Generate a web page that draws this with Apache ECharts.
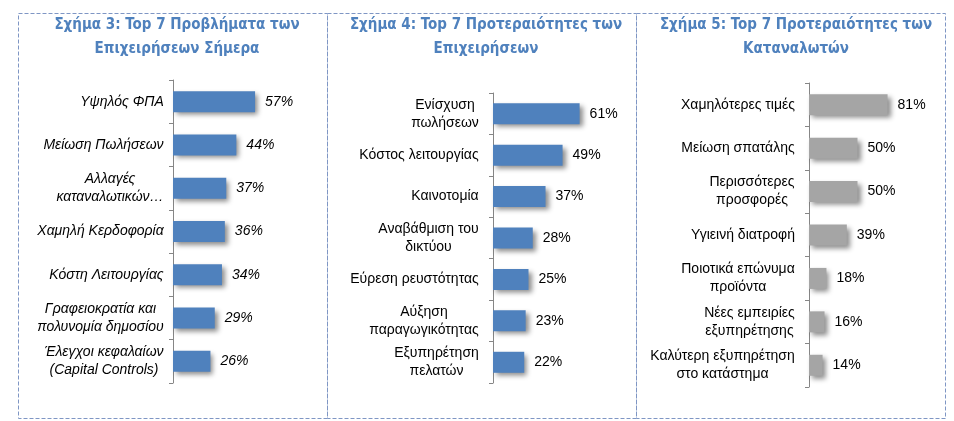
<!DOCTYPE html>
<html><head><meta charset="utf-8">
<script src="https://cdn.jsdelivr.net/npm/echarts@6/dist/echarts.min.js"></script>
<style>html,body{margin:0;padding:0;background:#fff}#c{width:954px;height:421px}</style>
</head><body><div id="c"></div>
<script>
const titles = [
  'Σχήμα 3: Top 7 Προβλήματα των\nΕπιχειρήσεων Σήμερα',
  'Σχήμα 4: Top 7 Προτεραιότητες των\nΕπιχειρήσεων',
  'Σχήμα 5: Top 7 Προτεραιότητες των\nΚαταναλωτών'
];
const cats1 = ['Υψηλός ΦΠΑ','Μείωση Πωλήσεων','Αλλαγές\nκαταναλωτικών…','Χαμηλή Κερδοφορία','Κόστη Λειτουργίας','Γραφειοκρατία και\nπολυνομία δημοσίου','Έλεγχοι κεφαλαίων\n(Capital Controls)'];
const vals1 = [57,44,37,36,34,29,26];
const cats2 = ['Ενίσχυση\nπωλήσεων','Κόστος λειτουργίας','Καινοτομία','Αναβάθμιση του\nδικτύου','Εύρεση ρευστότητας','Αύξηση\nπαραγωγικότητας','Εξυπηρέτηση\nπελατών'];
const vals2 = [61,49,37,28,25,23,22];
const cats3 = ['Χαμηλότερες τιμές','Μείωση σπατάλης','Περισσότερες\nπροσφορές','Υγιεινή διατροφή','Ποιοτικά επώνυμα\nπροϊόντα','Νέες εμπειρίες\nεξυπηρέτησης','Καλύτερη εξυπηρέτηση\nστο κατάστημα'];
const vals3 = [81,50,50,39,18,16,14];

const chart = echarts.init(document.getElementById('c'), null, {renderer:'canvas'});
const FONT = '"Liberation Sans", Arial, sans-serif';
const grids = [
  {left:173, top:80, width:144, height:303},
  {left:493, top:93, width:142, height:290},
  {left:809, top:83, width:97, height:304}
];
const cats = [cats1,cats2,cats3];
const vals = [vals1,vals2,vals3];
const colors = ['#4F81BD','#4F81BD','#A5A5A5'];
const italic = [true,false,false];
const titleX = [172, 481, 791];
const panels = [[18,327],[327,636],[636,945]];

// centre the lines of multi-line labels against each other (block stays right-aligned)
const mctx = document.createElement('canvas').getContext('2d');
function makeLabel(i){
  const style = italic[i] ? 'italic ' : '';
  mctx.font = style + '14px "Liberation Sans", Arial, sans-serif';
  const rich = {};
  const map = {};
  cats[i].forEach((c,k)=>{
    const lines = c.split('\n');
    const w = Math.ceil(Math.max(...lines.map(l=>mctx.measureText(l).width)));
    rich['r'+k] = {width:w, align:'center', fontFamily:FONT, fontSize:14, lineHeight:18,
      fontStyle: italic[i]?'italic':'normal', color:'#000'};
    map[c] = lines.map(l=>'{r'+k+'|'+l+'}').join('\n');
  });
  return {rich, formatter:(v)=>map[v]};
}

const option = {
  backgroundColor:'#fff',
  animation:false,
  title: titles.map((t,i)=>({
    text:t, left:titleX[i], top:8, textAlign:'center',
    textStyle:{fontFamily:'"Liberation Sans Narrow", "DejaVu Sans Condensed", Arial, sans-serif', fontWeight:'bold', fontSize:15, color:'#4F81BD', lineHeight:24}
  })),
  graphic: panels.map(p=>({
    type:'rect', shape:{x:p[0]+0.5, y:13.5, width:p[1]-p[0], height:405},
    style:{fill:'none', stroke:'#7F96C4', lineWidth:1, lineDash:[4,2]}, silent:true
  })),
  grid: grids,
  xAxis: grids.map((g,i)=>({gridIndex:i, type:'value', min:0, max:100, show:false})),
  yAxis: grids.map((g,i)=>{
    const lab = makeLabel(i);
    return {
      gridIndex:i, type:'category', data:cats[i], inverse:true,
      axisLine:{show:true, lineStyle:{color:'#868686', width:1}},
      axisTick:{show:true, length:4, lineStyle:{color:'#868686'}},
      axisLabel:{color:'#000', fontFamily:FONT, fontSize:14, lineHeight:18,
        fontStyle: italic[i]?'italic':'normal', margin: i===0?9:14,
        formatter: lab.formatter, rich: lab.rich}
    };
  }),
  series: vals.map((v,i)=>({
    type:'bar', xAxisIndex:i, yAxisIndex:i, data:v, barWidth:21,
    itemStyle:{color:colors[i], shadowColor:'rgba(0,0,0,0.45)', shadowBlur:5, shadowOffsetX:3, shadowOffsetY:3},
    label:{show:true, position:'right', distance:10, formatter:'{c}%', color:'#000',
      fontFamily:FONT, fontSize:14, fontStyle: italic[i]?'italic':'normal'}
  }))
};
chart.setOption(option);
</script></body></html>
